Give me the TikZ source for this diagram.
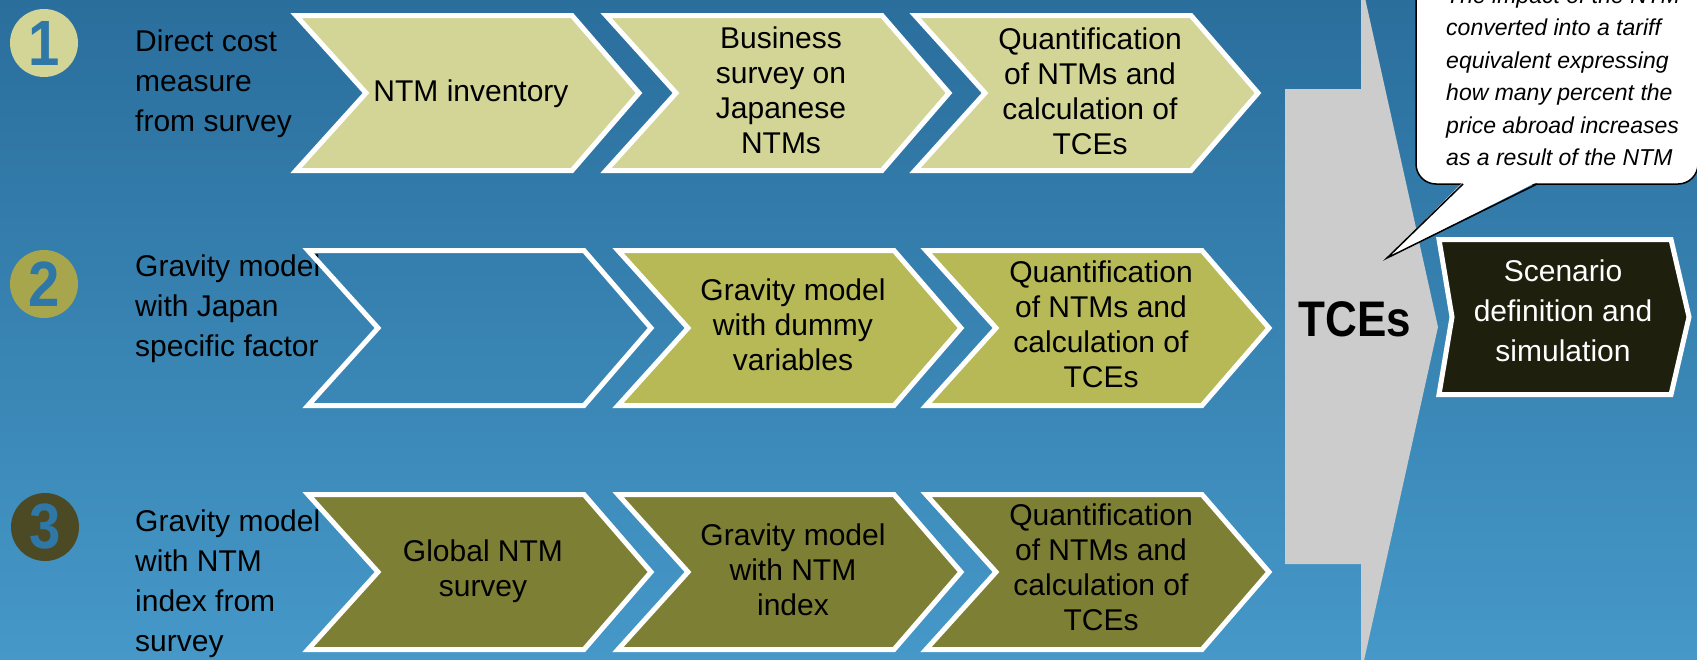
\documentclass[tikz,border=0pt]{standalone}
\usepackage{fontspec}
\setmainfont{Liberation Sans}
\newfontfamily\tcefont[FakeStretch=0.88]{Liberation Sans}

\definecolor{bgtop}{HTML}{2A6E9C}
\definecolor{bgbottom}{HTML}{4598C8}
\definecolor{rowa}{HTML}{D3D597}
\definecolor{rowb}{HTML}{B6B956}
\definecolor{rowc}{HTML}{7D7F35}
\definecolor{disca}{HTML}{D3D597}
\definecolor{discb}{HTML}{A8A64C}
\definecolor{discc}{HTML}{4B4A24}
\definecolor{numblue}{HTML}{2F77A6}
\definecolor{tcegray}{HTML}{CCCCCC}
\definecolor{scen}{HTML}{1F1F0E}

\tikzset{
  chev/.style={draw=white, line width=5pt},
  chevtext/.style={align=center, inner sep=0pt, font=\fontsize{30}{35}\selectfont},
  lefttext/.style={anchor=north west, align=left, inner sep=0pt, font=\fontsize{30}{40}\selectfont},
  disc/.style={circle, minimum size=68pt, inner sep=0pt, text=numblue, font=\tcefont\bfseries\fontsize{64}{64}\selectfont},
  bubble/.style={draw=black, fill=white, line width=1.5pt, rounded corners=20pt},
  note/.style={anchor=south west, align=left, inner sep=0pt, font=\fontsize{23}{32.4}\selectfont\itshape}
}

\begin{document}
\begin{tikzpicture}[x=1pt,y=-1pt]
\useasboundingbox (0,0) rectangle (1697,659);
\clip (0,0) rectangle (1697,659);
\shade[top color=bgtop, bottom color=bgbottom] (0,0) rectangle (1697,659);

% big grey arrow
\fill[tcegray] (1285,89) -- (1361,89) -- (1361,-20) -- (1438,327) -- (1361,674) -- (1361,564) -- (1285,564) -- cycle;

% left labels
\node[disc, fill=disca] (n1) at (44,43) {1};
\node[disc, fill=discb] (n2) at (44,284) {2};
\node[disc, fill=discc] (n3) at (45,527) {3};
\node[lefttext] (m1) at (135,30) {Direct cost\\measure\\from survey};
\node[lefttext] (m2) at (135,255) {Gravity model\\with Japan\\specific factor};
\node[lefttext] (m3) at (135,510) {Gravity model\\with NTM\\index from\\survey};

% chevrons
\foreach \x/\y/\c in {293/93/rowa, 603/93/rowa, 912/93/rowa,
                      305/328/none, 615/328/rowb, 923/328/rowb,
                      305/572/rowc, 615/572/rowc, 923/572/rowc}
  \draw[chev, fill=\c] (\x+3,\y-77.5) -- (\x+279,\y-77.5) -- (\x+346,\y) -- (\x+279,\y+77.5) -- (\x+3,\y+77.5) -- (\x+73,\y) -- cycle;

\node[chevtext] (a1) at (471,94) {NTM inventory};
\node[chevtext] (a2) at (781,90.5) {Business\\survey on\\Japanese\\NTMs};
\node[chevtext] (a3) at (1090,91.5) {Quantification\\of NTMs and\\calculation of\\TCEs};
\node[chevtext] (b2) at (793,325) {Gravity model\\with dummy\\variables};
\node[chevtext] (b3) at (1101,324) {Quantification\\of NTMs and\\calculation of\\TCEs};
\node[chevtext] (c1) at (483,571.5) {Global NTM\\survey};
\node[chevtext] (c2) at (793,570) {Gravity model\\with NTM\\index};
\node[chevtext] (c3) at (1101,567.5) {Quantification\\of NTMs and\\calculation of\\TCEs};

\node[font=\tcefont\bfseries\fontsize{50}{50}\selectfont] (tces) at (1355,319) {TCEs};

% scenario box
\draw[chev, fill=scen] (1439,239.5) -- (1671,239.5) -- (1689,317) -- (1671,394.5) -- (1439,394.5) -- (1452,317) -- cycle;
\node[align=center, inner sep=0pt, text=white, font=\fontsize{30}{40}\selectfont] (scen) at (1563,311) {Scenario\\definition and\\simulation};

% callout
\draw[bubble] (1416,-40) rectangle (1698,184);
\fill[white] (1463,182) -- (1387,258) -- (1537,182) -- cycle;
\draw[line width=1.5pt] (1463,184) -- (1387,258) -- (1537,184);
\node[note] (callout) at (1446,166) {The impact of the NTM\\converted into a tariff\\equivalent expressing\\how many percent the\\price abroad increases\\as a result of the NTM};
\end{tikzpicture}
\end{document}
